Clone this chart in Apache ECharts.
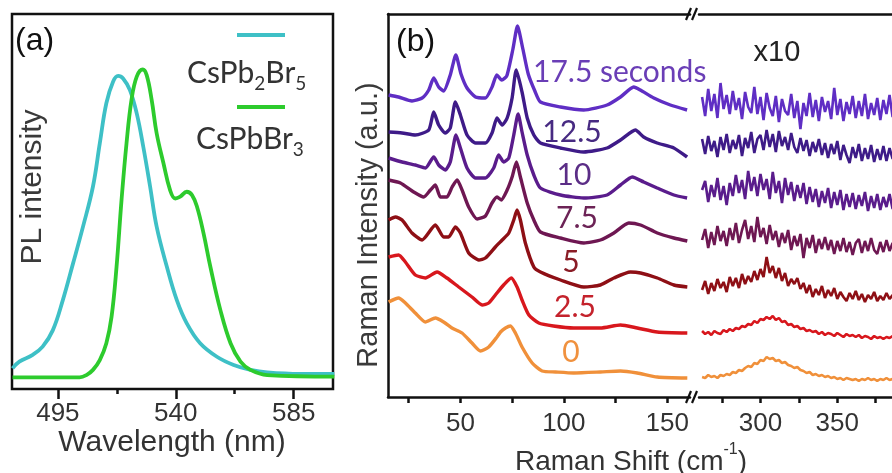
<!DOCTYPE html>
<html>
<head>
<meta charset="utf-8">
<script src="https://cdn.jsdelivr.net/npm/echarts@6/dist/echarts.min.js"></script>
<style>
    html, body { margin: 0; padding: 0; background: #fff; }
    #main { width: 892px; height: 473px; }
</style>
</head>
<body>
<div id="main"></div>
<script>
// (a) PL spectra, [wavelength (nm), normalised intensity]
var plCsPb2Br5 = [[477.7,0.055],[480.3,0.073],[485.4,0.091],[489.2,0.113],[493.1,0.157],[496.9,0.237],[500.8,0.335],[504.6,0.433],[508.4,0.540],[511.0,0.655],[513.5,0.762],[516.1,0.820],[518.0,0.835],[519.9,0.828],[522.5,0.797],[525.1,0.735],[527.6,0.646],[530.2,0.540],[532.7,0.433],[536.6,0.326],[540.4,0.237],[544.2,0.175],[549.3,0.122],[555.7,0.086],[562.1,0.064],[568.5,0.051],[574.9,0.044],[587.7,0.040],[600.5,0.040]];
var plCsPbBr3 = [[477.7,0.031],[503.3,0.031],[505.9,0.037],[508.4,0.051],[511.0,0.077],[513.5,0.122],[515.5,0.193],[517.4,0.326],[519.3,0.504],[521.2,0.655],[523.1,0.771],[525.1,0.833],[527.4,0.852],[528.9,0.837],[530.8,0.771],[532.7,0.682],[535.3,0.602],[537.8,0.531],[539.8,0.508],[541.7,0.513],[544.2,0.526],[546.2,0.517],[548.1,0.486],[550.6,0.415],[553.2,0.326],[557.0,0.211],[560.9,0.122],[564.7,0.073],[568.5,0.051],[574.9,0.037],[600.5,0.033]];
var plTicks = [495, 540, 585];
var plMinorTicks = [517.5, 562.5];

// (b) Raman spectra, low shift part [shift (cm-1), offset intensity]
var low0 = [[15.3,95],[20.1,99],[23.4,94],[28.2,84],[33.1,75],[37.9,79],[41.9,75],[45.9,69],[50.8,64],[55.6,54],[59.7,46],[63.7,50],[67.7,60],[69.4,65],[71.8,69],[74.2,71],[76.6,64],[79.8,50],[84.7,34],[89.5,26],[96.0,25],[104.8,24],[117.7,25],[127.4,26],[135.5,24],[145.2,20],[159.7,19]];
var low25 = [[15.3,140],[20.1,142],[23.4,135],[28.2,122],[33.1,119],[38.7,125],[43.5,119],[49.2,110],[55.6,100],[60.5,92],[63.7,94],[66.9,102],[70.9,112],[74.6,119],[77.4,110],[79.8,97],[83.1,82],[87.9,74],[95.0,71],[104.8,69],[117.7,69],[127.4,72],[135.5,69],[145.2,65],[159.7,64]];
var low5 = [[15.3,177],[18.6,180],[21.8,177],[26.6,164],[31.5,157],[37.9,172],[41.9,160],[44.3,160],[47.6,170],[50.0,164],[54.0,144],[58.9,137],[62.1,139],[66.9,150],[70.2,157],[73.4,164],[75.8,177],[77.4,187],[79.0,177],[81.4,154],[85.5,130],[88.7,125],[98.4,117],[109.7,110],[117.7,112],[124.2,119],[132.2,125],[137.1,124],[145.2,119],[153.2,112],[159.7,110]];
var low75 = [[15.3,217],[21.0,214],[27.4,205],[32.3,200],[35.5,207],[37.9,212],[40.3,200],[43.5,200],[46.0,210],[48.4,217],[50.8,207],[54.0,190],[58.1,178],[62.1,181],[65.3,194],[67.7,200],[69.7,197],[72.6,207],[75.0,220],[77.1,235],[79.0,220],[82.3,194],[85.5,177],[88.7,165],[98.4,159],[109.7,154],[117.7,157],[124.2,164],[131.4,174],[137.1,172],[145.2,164],[153.2,159],[159.7,156]];
var low10 = [[15.3,239],[21.8,235],[28.2,232],[33.1,229],[37.1,240],[39.5,232],[42.7,227],[45.1,235],[47.9,262],[50.0,249],[53.2,229],[57.3,219],[62.1,219],[66.1,229],[68.5,242],[70.9,235],[73.4,239],[75.8,262],[77.9,283],[79.8,265],[82.3,242],[85.5,222],[88.7,209],[98.4,202],[109.6,199],[120.9,202],[127.4,212],[133.1,220],[138.6,215],[145.1,209],[153.2,202],[159.6,199]];
var low125 = [[15.3,265],[21.8,264],[28.2,262],[34.7,267],[37.1,285],[39.5,272],[42.7,264],[45.1,269],[47.6,295],[50.0,282],[53.2,262],[57.3,254],[62.1,254],[65.3,264],[67.7,279],[70.2,272],[72.6,279],[75.0,299],[77.0,327],[79.8,305],[82.3,279],[85.5,262],[88.7,254],[98.4,249],[109.6,245],[120.9,249],[127.4,257],[134.6,267],[138.6,260],[145.1,254],[153.2,249],[159.6,240]];
var low175 = [[15.3,302],[20.1,300],[26.6,296],[31.5,299],[34.7,307],[37.1,319],[39.5,310],[41.9,306],[45.1,322],[47.8,342],[50.3,323],[53.2,309],[57.3,300],[62.1,299],[65.3,310],[67.6,322],[70.0,317],[72.4,321],[75.4,348],[77.6,371],[80.2,348],[82.8,323],[86.0,306],[88.7,295],[98.4,290],[109.6,287],[120.9,292],[127.4,300],[133.8,310],[137.0,307],[143.5,299],[151.5,292],[159.6,287]];
var lowTicks = [25, 50, 75, 100, 125, 150];
var lowLabels = [50, 100, 150];

// (b) high shift part (x10), same shift positions for every spectrum
var highShift = [262,264,266,268,270,272,274,276,278,280,282,284,286,288,290,292,294,296,298,300,302,304,306,308,310,312,314,316,318,320,322,324,326,328,330,332,334,336,338,340,342,344,346,348,350,352,354,356,358,360,362,364,366,368,370,372,374,376,378,380,382,384,386,388,390];
var high0 = [20,19,22,20,21,19,22,21,23,22,25,24,27,26,29,31,30,34,33,37,36,40,38,39,36,37,34,35,32,31,29,30,27,26,24,25,22,23,21,22,20,21,19,20,18,19,17,19,18,17,18,16,18,17,19,17,18,16,18,17,19,17,18,16,17];
var high25 = [66,63,65,62,66,64,63,67,65,68,66,69,68,71,70,73,72,76,74,78,77,80,78,81,77,79,75,76,72,73,70,71,68,69,66,67,65,66,63,65,62,64,63,61,64,62,60,63,61,62,60,62,59,61,60,58,61,59,60,58,60,59,61,58,60];
var high5 = [107,116,103,114,106,118,109,115,105,120,111,119,109,123,113,121,115,126,117,128,120,140,124,131,119,129,116,124,111,118,113,119,108,114,104,112,100,108,102,111,99,107,101,109,98,105,100,96,104,98,106,97,103,95,102,98,105,96,101,97,104,98,102,96,101];
var high75 = [157,168,149,165,152,171,156,166,151,169,157,174,154,167,177,158,171,155,180,160,169,153,172,157,166,150,164,154,167,147,161,151,163,139,159,149,162,144,158,148,160,147,157,143,156,146,159,145,155,142,154,158,144,156,146,159,147,143,155,145,157,146,154,144,155];
var high10 = [207,216,195,212,200,219,197,211,192,214,201,222,204,217,198,226,206,220,201,223,207,218,198,225,204,216,194,219,202,215,196,212,199,214,193,210,195,208,190,206,194,209,189,205,192,207,187,203,190,204,188,202,191,205,186,201,189,203,187,200,190,203,188,201,191];
var high125 = [258,243,261,246,256,240,260,247,263,244,257,248,262,241,259,249,265,244,258,262,247,267,250,263,245,266,251,260,247,264,250,244,259,246,257,241,255,245,258,242,254,239,253,243,256,237,252,242,234,250,239,253,236,249,238,252,235,248,237,251,236,249,238,250,239];
var high175 = [300,281,308,286,303,279,314,288,302,283,306,287,299,278,305,290,284,310,283,300,277,304,289,281,301,275,298,286,282,303,279,296,268,294,281,304,280,297,276,300,285,296,278,309,282,298,276,295,283,301,279,296,281,303,278,294,282,299,277,297,283,302,280,295,284];
var highTicks = [275, 300, 325, 350, 375];
var highLabels = [300, 350];

var times = ['0', '2.5', '5', '7.5', '10', '12.5', '17.5 seconds'];
var lowSets = [low0, low25, low5, low75, low10, low125, low175];
var highSets = [high0, high25, high5, high75, high10, high125, high175];
var colors = ['#f0903a', '#d8171d', '#8e0f15', '#6e1752', '#5a1c8c', '#3e1b88', '#5f2ec4'];
var labelColors = ['#f0913e', '#c4222c', '#8a1c26', '#6c2356', '#5b2d86', '#472a82', '#6a3eb6'];

(function () {
    var myChart = echarts.init(document.getElementById('main'));
    var tickFont = { color: '#333', fontSize: 26, fontFamily: 'Liberation Sans, Arial, sans-serif' };
    var frame = { show: true, lineStyle: { color: '#111', width: 2.5 } };
    var none = { show: false };

    // top border of the broken Raman axis
    function boxAxis(grid, min, max) {
        return { type: 'value', gridIndex: grid, position: 'top', min: min, max: max,
            axisLine: frame, axisTick: none, axisLabel: none, splitLine: none };
    }

    var series = [
        { type: 'line', xAxisIndex: 0, yAxisIndex: 0, data: plCsPb2Br5, smooth: 0.4, showSymbol: false,
          lineStyle: { color: '#3ec0c6', width: 3.8 } },
        { type: 'line', xAxisIndex: 0, yAxisIndex: 0, data: plCsPbBr3, smooth: 0.4, showSymbol: false,
          lineStyle: { color: '#2dcb2d', width: 3.8 } }
    ];
    for (var i = 0; i < times.length; i++) {
        series.push({ type: 'line', xAxisIndex: 2, yAxisIndex: 1, data: lowSets[i], smooth: 0.2, showSymbol: false,
            lineStyle: { color: colors[i], width: 3.4 } });
        series.push({ type: 'line', xAxisIndex: 4, yAxisIndex: 2, showSymbol: false,
            data: highShift.map(function (x, k) { return [x, highSets[i][k]]; }),
            lineStyle: { color: colors[i], width: 2.6 } });
    }

    // labels next to each Raman spectrum
    var labelPos = [[571, 352], [575, 307], [571, 262], [577, 218], [574, 175], [572, 132], [533, 72]];
    var graphics = times.map(function (t, i) {
        return { type: 'text', z: 100, style: { text: t, x: labelPos[i][0], y: labelPos[i][1],
            textAlign: i === 6 ? 'left' : 'center', textVerticalAlign: 'middle',
            font: '30px Lato', fill: labelColors[i] } };
    });

    var sub = { fontSize: 19, fontFamily: 'Lato', fill: '#333', lineHeight: 16, verticalAlign: 'bottom' };
    var base = { fontSize: 30, fontFamily: 'Lato', fill: '#333', lineHeight: 40 };
    graphics = graphics.concat([
        { type: 'text', z: 100, style: { text: '(a)', x: 15, y: 41, textVerticalAlign: 'middle', font: '32px Liberation Sans', fill: '#111' } },
        { type: 'text', z: 100, style: { text: '(b)', x: 396, y: 42, textVerticalAlign: 'middle', font: '32px Liberation Sans', fill: '#111' } },
        { type: 'text', z: 100, style: { text: 'x10', x: 777, y: 53, textAlign: 'center', textVerticalAlign: 'middle', font: '29px Liberation Sans', fill: '#222' } },
        // legend of (a)
        { type: 'line', z: 100, shape: { x1: 237, y1: 35, x2: 285, y2: 35 }, style: { stroke: '#3ec0c6', lineWidth: 4 } },
        { type: 'line', z: 100, shape: { x1: 237, y1: 107, x2: 285, y2: 107 }, style: { stroke: '#2dcb2d', lineWidth: 4 } },
        { type: 'text', z: 100, style: { text: '{b|CsPb}{s|2}{b|Br}{s|5}', x: 187, y: 73, textVerticalAlign: 'middle', rich: { b: base, s: sub } } },
        { type: 'text', z: 100, style: { text: '{b|CsPbBr}{s|3}', x: 196, y: 139, textVerticalAlign: 'middle', rich: { b: base, s: sub } } },
        // axis titles
        { type: 'text', z: 100, rotation: Math.PI / 2, x: 33, y: 187, style: { text: 'PL intensity', x: 0, y: 0, textAlign: 'center', textVerticalAlign: 'middle', font: '30px Liberation Sans', fill: '#3a3a3a' } },
        { type: 'text', z: 100, rotation: Math.PI / 2, x: 369, y: 225, style: { text: 'Raman Intensity (a.u.)', x: 0, y: 0, textAlign: 'center', textVerticalAlign: 'middle', font: '29px Liberation Sans', fill: '#3a3a3a' } },
        { type: 'text', z: 100, style: { text: 'Wavelength (nm)', x: 172, y: 443, textAlign: 'center', textVerticalAlign: 'middle', font: '30px Liberation Sans', fill: '#333' } },
        { type: 'text', z: 100, style: { text: '{a|Raman Shift (cm}{u|-1}{a|)}', x: 631, y: 462, textAlign: 'center', textVerticalAlign: 'middle',
            rich: { a: { fontSize: 28, fontFamily: 'Liberation Sans', fill: '#333', lineHeight: 40 },
                    u: { fontSize: 16, fontFamily: 'Liberation Sans', fill: '#333', lineHeight: 24, verticalAlign: 'top' } } } },
        // axis breaks
        { type: 'line', z: 100, shape: { x1: 686, y1: 403, x2: 691, y2: 391 }, style: { stroke: '#111', lineWidth: 2.2 } },
        { type: 'line', z: 100, shape: { x1: 692, y1: 403, x2: 697, y2: 391 }, style: { stroke: '#111', lineWidth: 2.2 } },
        { type: 'line', z: 100, shape: { x1: 686, y1: 20, x2: 691, y2: 8 }, style: { stroke: '#111', lineWidth: 2.2 } },
        { type: 'line', z: 100, shape: { x1: 692, y1: 20, x2: 697, y2: 8 }, style: { stroke: '#111', lineWidth: 2.2 } }
    ]);

    option = {
        animation: false,
        backgroundColor: '#fff',
        grid: [
            { left: 12, top: 14, width: 321, height: 375, show: true, borderColor: '#111', borderWidth: 2.5 },
            { left: 388, top: 14, width: 302, height: 383 },
            { left: 699, top: 14, width: 193, height: 383 }
        ],
        xAxis: [
            { type: 'value', gridIndex: 0, position: 'bottom', min: 477.5, max: 600, axisLine: none, splitLine: none,
              axisTick: { show: true, inside: false, length: 10, customValues: plTicks, lineStyle: { color: '#111', width: 2.5 } },
              axisLabel: Object.assign({ customValues: plTicks, margin: 12 }, tickFont) },
            { type: 'value', gridIndex: 0, position: 'bottom', min: 477.5, max: 600, axisLine: none, splitLine: none, axisLabel: none,
              axisTick: { show: true, length: 5, customValues: plMinorTicks, lineStyle: { color: '#111', width: 2.5 } } },
            { type: 'value', gridIndex: 1, position: 'bottom', min: 15, max: 161, axisLine: frame, splitLine: none,
              axisTick: { show: true, length: 6, customValues: lowTicks, lineStyle: { color: '#111', width: 2.5 } },
              axisLabel: Object.assign({ customValues: lowLabels, margin: 14 }, tickFont) },
            boxAxis(1, 15, 161),
            { type: 'value', gridIndex: 2, position: 'bottom', min: 260, max: 385.6, axisLine: frame, splitLine: none,
              axisTick: { show: true, length: 6, customValues: highTicks, lineStyle: { color: '#111', width: 2.5 } },
              axisLabel: Object.assign({ customValues: highLabels, margin: 14 }, tickFont) },
            boxAxis(2, 260, 385.6)
        ],
        yAxis: [
            { type: 'value', gridIndex: 0, min: 0, max: 1, axisLine: none, axisTick: none, axisLabel: none, splitLine: none },
            { type: 'value', gridIndex: 1, min: 0, max: 383, axisLine: frame, axisTick: none, axisLabel: none, splitLine: none },
            { type: 'value', gridIndex: 2, min: 0, max: 383, axisLine: none, axisTick: none, axisLabel: none, splitLine: none }
        ],
        series: series,
        graphic: { elements: graphics }
    };
    myChart.setOption(option);
})();
</script>
</body>
</html>
